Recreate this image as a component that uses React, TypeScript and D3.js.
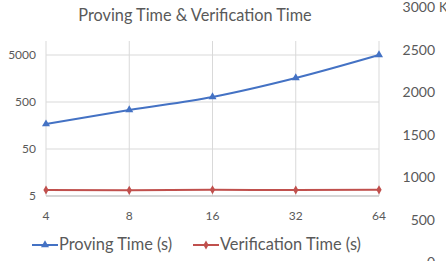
import React from 'react';
import * as d3 from 'd3';

// chart data
const categories = ['4', '8', '16', '32', '64'];
const provingTime = [170, 338, 640, 1620, 5000];
const verificationTime = [6.7, 6.6, 6.8, 6.7, 6.75];
const leftTicks = [5, 50, 500, 5000];
const rightTicks = [0, 500, 1000, 1500, 2000, 2500, 3000];

const W = 446;
const H = 261;
const FONT = 'Lato, "Open Sans", sans-serif';
const GRAY = '#595959';
const BLUE = '#4472C4';
const RED = '#C0504D';

const App = () => {
  const x = d3.scalePoint<string>().domain(categories).range([46, 379]);
  const y = d3.scaleLog().domain([5, 5 * Math.pow(10, 155 / 47)]).range([196, 41]);
  const yRight = d3.scaleLinear().domain([0, 3000]).range([262, 7]);

  const line = (vals: number[]) =>
    d3.line<number>()
      .x((_, i) => x(categories[i]) as number)
      .y(d => y(d))
      .curve(d3.curveMonotoneX)(vals) as string;

  const tri = d3.symbol().type(d3.symbolTriangle).size(28)() as string;
  const dia = d3.symbol().type(d3.symbolDiamond).size(24)() as string;

  return (
    <svg width={W} height={H} style={{ position: 'absolute', left: 0, top: 0, background: '#fff' }}
      fontFamily={FONT}>
      <text x={195} y={21} textAnchor="middle" fontSize={16.3} fill={GRAY}>Proving Time &amp; Verification Time</text>

      {/* grid */}
      {leftTicks.map(t => (
        <line key={'h' + t} x1={46} x2={379} y1={y(t)} y2={y(t)} stroke="#d9d9d9" />
      ))}
      {categories.map(c => (
        <line key={'v' + c} x1={x(c)} x2={x(c)} y1={41} y2={196} stroke="#d9d9d9" />
      ))}
      <line x1={46} x2={379} y1={196} y2={196} stroke="#bfbfbf" />

      {/* left axis labels */}
      {leftTicks.map(t => (
        <text key={'l' + t} x={36} y={y(t) + 4} textAnchor="end" fontSize={12} fill={GRAY}>{t}</text>
      ))}
      {/* x labels */}
      {categories.map(c => (
        <text key={'x' + c} x={x(c)} y={220} textAnchor="middle" fontSize={12} fill={GRAY}>{c}</text>
      ))}
      {/* right axis labels */}
      {rightTicks.map(t => (
        <text key={'r' + t} x={435} y={yRight(t) + 5} textAnchor="end" fontSize={14} fill={GRAY}>{t}</text>
      ))}
      <text x={439} y={12} fontSize={13} fill={GRAY}>K</text>

      {/* series */}
      <path d={line(provingTime)} fill="none" stroke={BLUE} strokeWidth={2} />
      {provingTime.map((v, i) => (
        <path key={'p' + i} d={tri} transform={`translate(${x(categories[i])},${y(v)})`} fill={BLUE} />
      ))}
      <path d={line(verificationTime)} fill="none" stroke={RED} strokeWidth={2} />
      {verificationTime.map((v, i) => (
        <path key={'q' + i} d={dia} transform={`translate(${x(categories[i])},${y(v)})`} fill={RED} />
      ))}

      {/* legend */}
      <line x1={32} x2={58} y1={245} y2={245} stroke={BLUE} strokeWidth={2} />
      <path d={tri} transform="translate(45,245)" fill={BLUE} />
      <text x={59} y={250} fontSize={16.4} fill={GRAY}>Proving Time (s)</text>
      <line x1={193} x2={219} y1={245} y2={245} stroke={RED} strokeWidth={2} />
      <path d={dia} transform="translate(206,245)" fill={RED} />
      <text x={220} y={250} fontSize={16.4} fill={GRAY}>Verification Time (s)</text>
    </svg>
  );
};

export default App;
